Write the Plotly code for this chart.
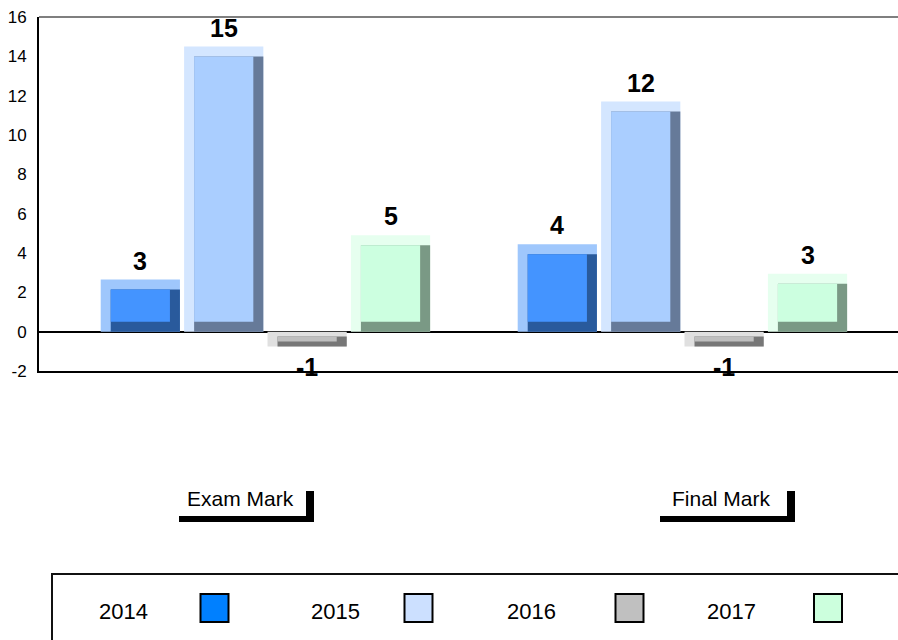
import numpy as np
import plotly.graph_objects as go

categories = ["Exam Mark", "Final Mark"]
years = ["2014", "2015", "2016", "2017"]
val_2014 = [2.65, 4.45]
val_2015 = [14.5, 11.7]
val_2016 = [-0.75, -0.75]
val_2017 = [4.9, 2.95]
series = [val_2014, val_2015, val_2016, val_2017]
y_ticks = [-2, 0, 2, 4, 6, 8, 10, 12, 14, 16]

# light bevel, face, dark bevel, legend swatch
colors = [
    ("#9FC7FC", "#4494FF", "#295A9C", "#0080FF"),
    ("#D4E6FF", "#AACEFF", "#667A99", "#CCE0FF"),
    ("#E0E0E0", "#BFBFBF", "#777777", "#C0C0C0"),
    ("#E6FFEF", "#CCFFE0", "#7A9985", "#CCFFDD"),
]

FONT = "Liberation Sans, Arial, sans-serif"
W, H = 898, 640
# plot area in px
L, R, T, B = 39, 898, 17, 371


def px(x):
    return (x - L) / (R - L)


def py(y):
    return (B - y) / (B - T)


bar_w = 0.19
step = 0.2
first = -0.395
bx = 0.024     # side bevel, category units
by_max = 0.51  # top bevel, y units

fig = go.Figure()
annotations = []

for k, vals in enumerate(series):
    light, face, dark, _ = colors[k]
    v = np.array(vals)
    lo = np.minimum(v, 0)
    h = np.abs(v)
    by = np.minimum(by_max, h / 3)
    off = first + k * step
    common = dict(x=categories, showlegend=False, hoverinfo="skip",
                  marker_line_width=0)
    fig.add_trace(go.Bar(y=h, base=lo, offset=off, width=bar_w,
                         marker_color=light, **common))
    fig.add_trace(go.Bar(y=h - by, base=lo, offset=off + bx, width=bar_w - bx,
                         marker_color=dark, **common))
    fig.add_trace(go.Bar(y=h - 2 * by, base=lo + by, offset=off + bx,
                         width=bar_w - 2 * bx, marker_color=face, **common))
    for i, val in enumerate(vals):
        annotations.append(dict(
            x=i + off + bar_w / 2, y=val, xref="x", yref="y",
            text=str(int(np.floor(val + 0.5))), showarrow=False,
            yshift=19 if val > 0 else -21, yanchor="middle",
            font=dict(family=FONT, size=25, color="black", weight="bold"),
        ))

shapes = [
    dict(type="line", xref="paper", yref="paper", x0=0, x1=1.02, y0=1, y1=1,
         line=dict(color="#555555", width=1.5)),
    # legend box
    dict(type="rect", xref="paper", yref="paper", x0=px(52), x1=px(915),
         y0=py(574), y1=py(680), line=dict(color="#111111", width=2),
         fillcolor="rgba(0,0,0,0)"),
]

# category labels with drop-shadow boxes
cat_boxes = [(171, 306), (652, 787)]
for name, (x0, x1) in zip(categories, cat_boxes):
    shapes.append(dict(type="rect", xref="paper", yref="paper",
                       x0=px(x0 + 8), x1=px(x1 + 8), y0=py(491), y1=py(522),
                       line_width=0, fillcolor="black"))
    shapes.append(dict(type="rect", xref="paper", yref="paper",
                       x0=px(x0), x1=px(x1), y0=py(484), y1=py(516),
                       line_width=0, fillcolor="white"))
    annotations.append(dict(
        x=px((x0 + x1) / 2 + 2), y=py(498), xref="paper", yref="paper",
        text=name, showarrow=False, xanchor="center", yanchor="middle",
        font=dict(family=FONT, size=21, color="black"),
    ))

# legend entries: label then swatch
legend_text_x = [123, 335, 531, 731]
legend_swatch_x = [214.5, 418.5, 629.5, 828]
for k, yr in enumerate(years):
    annotations.append(dict(
        x=px(legend_text_x[k]), y=py(611), xref="paper", yref="paper",
        text=yr, showarrow=False, xanchor="center", yanchor="middle",
        font=dict(family=FONT, size=22, color="black"),
    ))
    sx = legend_swatch_x[k]
    shapes.append(dict(type="rect", xref="paper", yref="paper",
                       x0=px(sx - 14), x1=px(sx + 14),
                       y0=py(594), y1=py(622),
                       line=dict(color="black", width=2),
                       fillcolor=colors[k][3]))

fig.update_layout(
    width=W, height=H, autosize=False,
    margin=dict(l=L, r=W - R, t=T, b=H - B),
    paper_bgcolor="white", plot_bgcolor="white",
    barmode="overlay",
    xaxis=dict(type="category", range=[-0.543, 1.517], showticklabels=False,
               showgrid=False, showline=True, linecolor="black", linewidth=2,
               zeroline=False, ticks=""),
    yaxis=dict(range=[-2, 16], tickmode="array", tickvals=y_ticks,
               ticktext=[str(t) for t in y_ticks],
               showgrid=False, showline=True,
               linecolor="black", linewidth=2, ticks="",
               zeroline=True, zerolinecolor="black", zerolinewidth=1.5,
               ticklabelstandoff=7,
               tickfont=dict(family=FONT, size=17, color="black")),
    shapes=shapes,
    annotations=annotations,
)

fig.write_html("out.html", config={"displayModeBar": False},
               post_script="document.body.style.margin = '0';")
